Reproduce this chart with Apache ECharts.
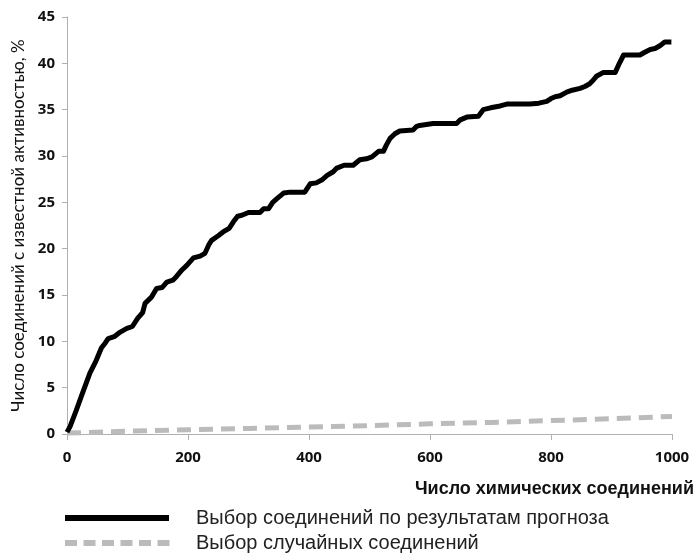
<!DOCTYPE html>
<html>
<head>
<meta charset="utf-8">
<script src="https://cdn.jsdelivr.net/npm/echarts@6/dist/echarts.min.js"></script>
<style>
html,body{margin:0;padding:0;background:#fff;}
#chart{width:696px;height:556px;}
</style>
</head>
<body>
<div id="chart"></div>
<script>
var seriesNames = ['Выбор соединений по результатам прогноза', 'Выбор случайных соединений'];
var xTitle = 'Число химических соединений';
var yTitle = 'Число соединений с известной активностью, %';
var predicted = [[0,0.2],[5,0.8],[15,2.5],[25,4.3],[38,6.6],[48,7.9],[57,9.3],[63,9.8],[68,10.3],[78,10.5],[88,11],[99,11.4],[108,11.6],[117,12.5],[125,13.1],[129,14.1],[140,14.8],[148,15.7],[157,15.8],[165,16.4],[175,16.6],[181,17],[190,17.7],[198,18.2],[209,19],[220,19.2],[228,19.5],[235,20.5],[239,20.9],[250,21.4],[258,21.8],[268,22.2],[275,22.9],[282,23.5],[289,23.6],[300,23.9],[319,23.9],[325,24.3],[333,24.3],[340,25],[347,25.4],[358,26],[369,26.1],[393,26.1],[402,27],[412,27.1],[421,27.4],[430,27.9],[440,28.3],[446,28.7],[458,29],[473,29],[484,29.6],[495,29.7],[504,29.9],[515,30.5],[523,30.5],[528,31.2],[534,31.9],[542,32.4],[550,32.7],[572,32.8],[578,33.2],[583,33.3],[605,33.5],[644,33.5],[650,33.9],[661,34.2],[680,34.3],[688,35],[700,35.2],[716,35.4],[727,35.6],[765,35.6],[780,35.7],[793,35.9],[800,36.2],[807,36.4],[815,36.5],[826,36.9],[835,37.1],[848,37.3],[856,37.5],[864,37.8],[870,38.2],[875,38.6],[886,39],[906,39],[913,40],[920,40.9],[947,40.9],[955,41.2],[964,41.5],[972,41.6],[980,41.9],[988,42.3],[999,42.3]];
var random = [[0,0.1],[100,0.3],[200,0.45],[300,0.6],[400,0.75],[500,0.9],[600,1.1],[700,1.25],[800,1.45],[900,1.65],[1000,1.9]];

var legendText = {color: '#222', fontFamily: 'Liberation Sans, Arial', fontSize: 20, lineHeight: 20, padding: [8, 0, 0, 22]};

// dashed legend key (6 short dashes), drawn as decoration next to the text-only legend entry
var dashKey = [];
for (var k = 0; k < 6; k++) {
  dashKey.push({type: 'rect', left: 65 + k * 18.5, top: 540,
    shape: {width: 12, height: 6}, style: {fill: '#bbbbbb'}, silent: true});
}

var chart = echarts.init(document.getElementById('chart'), null, {renderer:'canvas'});
chart.setOption({
  animation: false,
  backgroundColor: '#fff',
  grid: {left: 67, right: 24, top: 17, bottom: 122, containLabel: false},
  xAxis: {
    type: 'value', min: 0, max: 1000, interval: 200,
    axisLine: {lineStyle: {color: '#b0b0b0', width: 1}},
    axisTick: {show: true, length: 6, lineStyle: {color: '#b0b0b0'}},
    splitLine: {show: false},
    axisLabel: {color: '#111', fontFamily: 'Open Sans', fontWeight: 'bold', fontSize: 15, margin: 16,
      formatter: function (v) { return String(v); }}
  },
  yAxis: {
    type: 'value', min: 0, max: 45, interval: 5,
    name: yTitle, nameLocation: 'middle', nameRotate: 90, nameGap: 38,
    nameTextStyle: {color: '#111', fontFamily: 'Lato', fontSize: 17},
    axisLine: {show: true, lineStyle: {color: '#b0b0b0', width: 1}},
    axisTick: {show: true, length: 5, lineStyle: {color: '#b0b0b0'}},
    splitLine: {show: false},
    axisLabel: {color: '#111', fontFamily: 'Open Sans', fontWeight: 'bold', fontSize: 15, margin: 12}
  },
  legend: [{
    left: 65, top: 504, padding: 0, itemWidth: 104, itemHeight: 6, icon: 'rect',
    textStyle: legendText, data: [seriesNames[0]]
  }, {
    left: 65, top: 529, padding: 0, itemWidth: 104, itemHeight: 6, icon: 'none',
    textStyle: legendText, data: [seriesNames[1]]
  }],
  graphic: [{
    type: 'text', right: 2, top: 480,
    style: {text: xTitle, fill: '#111', font: 'bold 18px "Liberation Sans"'}
  }].concat(dashKey),
  series: [{
    name: seriesNames[0], type: 'line', data: predicted, showSymbol: false, symbol: 'none',
    lineStyle: {color: '#000', width: 5, join: 'round'}, itemStyle: {color: '#000'}, z: 3
  }, {
    name: seriesNames[1], type: 'line', data: random, showSymbol: false, symbol: 'none',
    lineStyle: {color: '#bbbbbb', width: 5, type: [14, 8]}, itemStyle: {color: '#bbbbbb'}, z: 2
  }]
});
</script>
</body>
</html>
